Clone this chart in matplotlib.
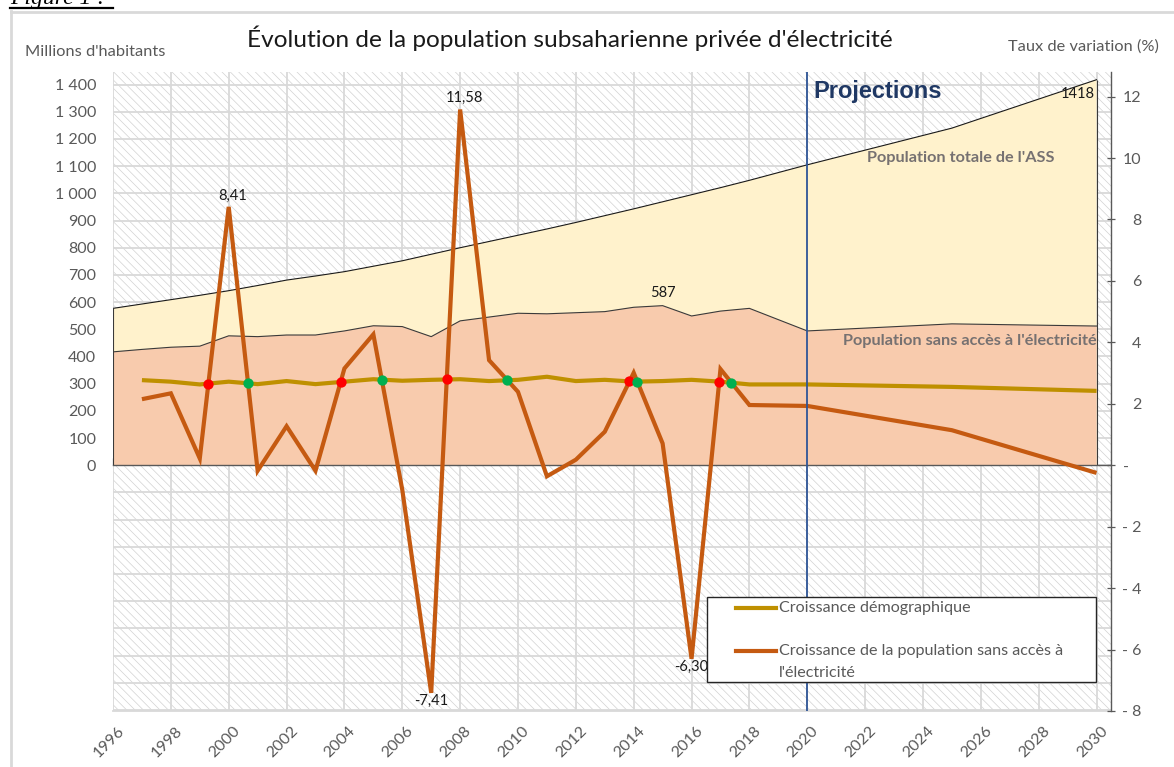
import matplotlib
matplotlib.use("Agg")
import matplotlib.pyplot as plt
from matplotlib.patches import Rectangle
from matplotlib.lines import Line2D
from matplotlib.ticker import FuncFormatter, FixedLocator
from matplotlib.transforms import ScaledTranslation

# ---------------- data ----------------
years_pop = [1996, 1997, 1998, 1999, 2000, 2001, 2002, 2003, 2004, 2005, 2006,
             2007, 2008, 2009, 2010, 2011, 2012, 2013, 2014, 2015, 2016, 2017,
             2018, 2020, 2025, 2030]
pop_totale = [577, 593, 609, 625, 642, 661, 681, 696, 712, 732, 752,
              776, 800, 823, 846, 869, 893, 918, 943, 969, 995, 1021,
              1048, 1105, 1240, 1418]
pop_sans_acces = [417, 426, 434, 438, 476, 473, 479, 479, 494, 513, 510,
                  473, 531, 545, 559, 557, 561, 565, 581, 587, 549, 567,
                  577, 494, 520, 512]

years_rate = [1997, 1998, 1999, 2000, 2001, 2002, 2003, 2004, 2005, 2006,
              2007, 2008, 2009, 2010, 2011, 2012, 2013, 2014, 2015, 2016,
              2017, 2018, 2020, 2025, 2030]
croissance_demo = [2.77, 2.72, 2.63, 2.72, 2.64, 2.74, 2.64, 2.72, 2.80, 2.75,
                   2.78, 2.80, 2.74, 2.78, 2.88, 2.74, 2.78, 2.72, 2.74, 2.78,
                   2.72, 2.63, 2.63, 2.55, 2.42]
croissance_sans_acces = [2.15, 2.34, 0.22, 8.41, -0.18, 1.27, -0.18, 3.15, 4.26, -0.80,
                         -7.41, 11.58, 3.42, 2.39, -0.36, 0.18, 1.09, 3.01, 0.71, -6.30,
                         3.13, 1.96, 1.93, 1.14, -0.25]

labelled_rates = [2000, 2008, 2007, 2016]
year_projection = 2020
x_ticks = list(range(1996, 2031, 2))
left_ticks = list(range(-900, 1401, 100))
right_ticks = list(range(-8, 13, 2))

# ---------------- style ----------------
W, H = 1174, 767
FONT = "Lato"
GRAY_TXT = "#595959"
GRID = "#d9d9d9"
C_TOT = "#fff2cc"
C_SANS = "#f8cbad"
C_DEMO = "#bf9000"
C_ORANGE = "#c55a11"

plt.rcParams["font.family"] = [FONT, "DejaVu Sans"]
plt.rcParams["hatch.linewidth"] = 0.5

def fx(x):
    return x / W

def fy(y):
    return 1 - y / H

fig = plt.figure(figsize=(W / 100, H / 100), dpi=100)
fig.patch.set_facecolor("white")

ax = fig.add_axes([fx(113), fy(711), (1111 - 113) / W, (711 - 72) / H])
ax2 = ax.twinx()

R = 113.0
ax2.set_ylim(-8, 12.8)
ax.set_ylim(-8 * R, 12.8 * R)
ax.set_xlim(1996, 2030.5)

# hatched background
ax.set_facecolor("white")
ax.add_patch(Rectangle((0, 0), 1, 1, transform=ax.transAxes, facecolor="white",
                       edgecolor="#d2d2d2", hatch="\\\\\\\\", lw=0, zorder=0.2))

# grid
ax.set_axisbelow(True)
ax.xaxis.set_major_locator(FixedLocator(x_ticks))
ax.yaxis.set_major_locator(FixedLocator(left_ticks))
ax.grid(True, color=GRID, lw=1.3, zorder=0.5)

# areas
ax.fill_between(years_pop, 0, pop_totale, facecolor=C_TOT, edgecolor="none", zorder=1)
ax.plot(years_pop, pop_totale, color="#1a1a1a", lw=0.8, zorder=1.2)
ax.fill_between(years_pop, 0, pop_sans_acces, facecolor=C_SANS, edgecolor="none", zorder=1.1)
ax.plot(years_pop, pop_sans_acces, color="#3a3a3a", lw=0.8, zorder=1.3)
ax.vlines([years_pop[0], years_pop[-1]], 0, [pop_totale[0], pop_totale[-1]],
          color="#3a3a3a", lw=0.8, zorder=1.3)
ax.axhline(0, color="#595959", lw=1.0, zorder=1.4)

# zero axis ticks
zero_frac = (0 - ax.get_ylim()[0]) / (ax.get_ylim()[1] - ax.get_ylim()[0])
sec = ax.secondary_xaxis(zero_frac)
sec.set_xticks(x_ticks)
sec.tick_params(direction="in", length=5, width=0.9, color="#595959", labelbottom=False)
sec.spines["bottom"].set_color("#595959")
sec.spines["bottom"].set_linewidth(1.0)

# left axis labels
def lfmt(v, pos):
    if v < 0:
        return ""
    v = int(round(v))
    return f"{v:,}".replace(",", " ")

ax.yaxis.set_major_formatter(FuncFormatter(lfmt))
ax.tick_params(axis="y", length=0, pad=12, labelsize=11.5, labelcolor=GRAY_TXT)
ax.tick_params(axis="x", length=0, pad=9, labelsize=11.5, labelcolor=GRAY_TXT)
ax.set_xticks(x_ticks)
ax.set_xticklabels([str(y) for y in x_ticks], rotation=45, ha="right", va="top",
                   rotation_mode="anchor")
shift = ScaledTranslation(4 / 100, 0, fig.dpi_scale_trans)
for lbl in ax.get_xticklabels():
    lbl.set_transform(lbl.get_transform() + shift)
for s in ["left", "top", "right"]:
    ax.spines[s].set_visible(False)
ax.spines["bottom"].set_color(GRID)
ax.spines["bottom"].set_linewidth(1.3)

# right axis
def rfmt(v, pos):
    v = int(round(v))
    if v == 0:
        return "-   "
    if v < 0:
        return f"- {abs(v)}"
    return str(v)

ax2.yaxis.set_major_locator(FixedLocator(right_ticks))
ax2.yaxis.set_major_formatter(FuncFormatter(rfmt))
ax2.tick_params(axis="y", direction="inout", length=6, width=0.9, color="#595959",
                pad=19, labelsize=11.5, labelcolor=GRAY_TXT)
for lbl in ax2.get_yticklabels():
    lbl.set_horizontalalignment("right")
for s in ["left", "top", "bottom"]:
    ax2.spines[s].set_visible(False)
ax2.spines["right"].set_color("#595959")
ax2.spines["right"].set_linewidth(1.0)

# lines
ax2.plot(years_rate, croissance_demo, color=C_DEMO, lw=3.0, zorder=3,
         solid_capstyle="butt")
ax2.plot(years_rate, croissance_sans_acces, color=C_ORANGE, lw=3.0, zorder=4,
         solid_joinstyle="miter", solid_capstyle="butt")

# crossing markers
red_x, red_y, green_x, green_y = [], [], [], []
for i in range(len(years_rate) - 1):
    d0 = croissance_sans_acces[i] - croissance_demo[i]
    d1 = croissance_sans_acces[i + 1] - croissance_demo[i + 1]
    if d0 * d1 < 0:
        t = d0 / (d0 - d1)
        xc = years_rate[i] + t * (years_rate[i + 1] - years_rate[i])
        yc = croissance_demo[i] + t * (croissance_demo[i + 1] - croissance_demo[i])
        if d1 > d0:
            red_x.append(xc); red_y.append(yc)
        else:
            green_x.append(xc); green_y.append(yc)
ax2.scatter(red_x, red_y, s=55, color="#ff0000", zorder=6, linewidths=0)
ax2.scatter(green_x, green_y, s=55, color="#00b050", zorder=6, linewidths=0)

# projection line
ax2.axvline(year_projection, color="#2f5597", lw=1.3, zorder=5)

# data labels
for yr in labelled_rates:
    v = croissance_sans_acces[years_rate.index(yr)]
    txt = f"{v:.2f}".replace(".", ",")
    if v > 0:
        ax2.annotate(txt, (yr, v), xytext=(3, 3), textcoords="offset points",
                     ha="center", va="bottom", fontsize=10.5, color="#1a1a1a", zorder=7)
    else:
        ax2.annotate(txt, (yr, v), xytext=(0, -1), textcoords="offset points",
                     ha="center", va="top", fontsize=10.5, color="#1a1a1a", zorder=7)

v = pop_sans_acces[years_pop.index(2015)]
ax.annotate(str(v), (2015, v), xytext=(0, 4), textcoords="offset points",
            ha="center", va="bottom", fontsize=10.5, color="#1a1a1a", zorder=7)
v = pop_totale[-1]
ax.annotate(str(v), (2030, v), xytext=(-1, -5), textcoords="offset points",
            ha="right", va="top", fontsize=10.5, color="#1a1a1a", zorder=7)

# area labels
ax.text(2025.3, 1131, "Population totale de l'ASS", ha="center", va="center",
        fontsize=11.7, fontweight="bold", color="#767171", zorder=7)
ax.text(2030, 457, "Population sans accès à l'électricité", ha="right", va="center",
        fontsize=11.7, fontweight="bold", color="#767171", zorder=7)
ax2.text(2020.2, 12.15, "Projections", ha="left", va="center", fontsize=17,
         fontweight="bold", color="#1f3864", family="Liberation Sans", zorder=7)

# titles
fig.text(fx(570), fy(38), "Évolution de la population subsaharienne privée d'électricité",
         ha="center", va="center", fontsize=17.6, color="#1a1a1a")
fig.text(fx(25), fy(52), "Millions d'habitants", ha="left", va="center",
         fontsize=11.8, color=GRAY_TXT)
fig.text(fx(1159), fy(47), "Taux de variation (%)", ha="right", va="center",
         fontsize=11.8, color=GRAY_TXT)

# legend (manual box)
leg_box = Rectangle((fx(707), fy(682)), fx(1096) - fx(707), fy(597) - fy(682),
                    transform=fig.transFigure, facecolor="white", edgecolor="#262626",
                    lw=1.0, zorder=8)
fig.add_artist(leg_box)
fig.add_artist(Line2D([fx(736), fx(776)], [fy(608), fy(608)], color=C_DEMO, lw=3,
                      transform=fig.transFigure, zorder=9))
fig.add_artist(Line2D([fx(736), fx(776)], [fy(651), fy(651)], color=C_ORANGE, lw=3,
                      transform=fig.transFigure, zorder=9))
fig.text(fx(779), fy(608), "Croissance démographique", ha="left", va="center",
         fontsize=11.6, color=GRAY_TXT, zorder=9)
fig.text(fx(779), fy(651), "Croissance de la population sans accès à", ha="left",
         va="center", fontsize=11.6, color=GRAY_TXT, zorder=9)
fig.text(fx(779), fy(673), "l'électricité", ha="left", va="center",
         fontsize=11.6, color=GRAY_TXT, zorder=9)

# outer frame and caption
fig.add_artist(Line2D([fx(11), fx(11)], [fy(11), fy(770)], color="#d9d9d9", lw=2,
                      transform=fig.transFigure))
fig.add_artist(Line2D([fx(11), fx(1180)], [fy(11.5), fy(11.5)], color="#d9d9d9", lw=2,
                      transform=fig.transFigure))
fig.text(fx(10), fy(4), "Figure 1 :", ha="left", va="baseline", fontsize=17,
         style="italic", family="Liberation Serif", color="black")
fig.add_artist(Line2D([fx(10), fx(113)], [fy(7.5), fy(7.5)], color="black", lw=1.6,
                      transform=fig.transFigure))

fig.savefig("out.png", dpi=100)
